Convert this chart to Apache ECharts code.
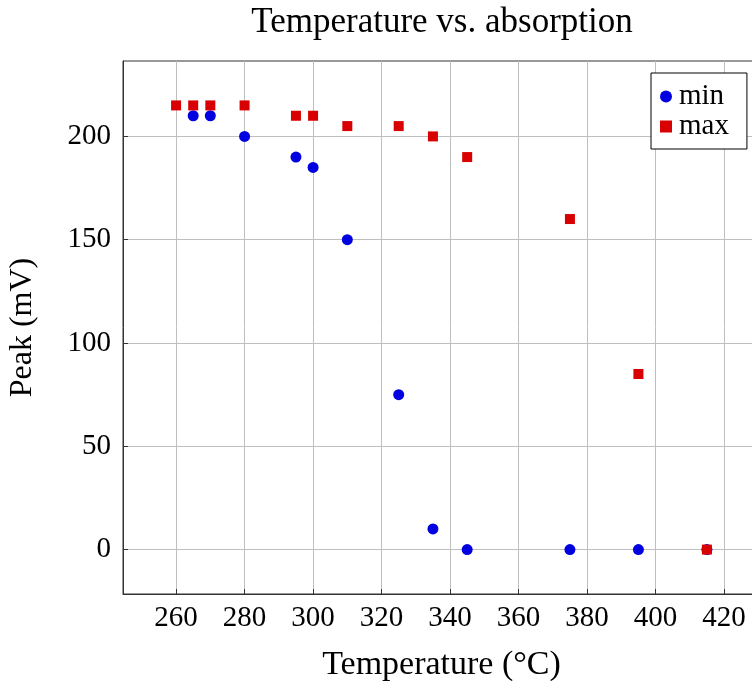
<!DOCTYPE html>
<html>
<head>
<meta charset="utf-8">
<script src="https://cdn.jsdelivr.net/npm/echarts@6/dist/echarts.min.js"></script>
<style>
  html, body { margin: 0; padding: 0; background: #fff; }
  #chart-container { width: 752px; height: 681px; }
</style>
</head>
<body>
<div id="chart-container"></div>
<script>
var dom = document.getElementById("chart-container");
var myChart = echarts.init(dom, null, { renderer: "canvas" });

var chart_title = "Temperature vs. absorption";
var minTemps = [265, 270, 280, 295, 300, 310, 325, 335, 345, 375, 395, 415];
var minPeaks = [210, 210, 200, 190, 185, 150, 75, 10, 0, 0, 0, 0];
var maxTemps = [260, 265, 270, 280, 295, 300, 310, 325, 335, 345, 375, 395, 415];
var maxPeaks = [215, 215, 215, 215, 210, 210, 205, 205, 200, 190, 160, 85, 0];
var xTicks = [260, 280, 300, 320, 340, 360, 380, 400, 420];
var yTicks = [0, 50, 100, 150, 200];

var font = "Liberation Serif";
var axisColor = "#333";
var gridColor = "#bfbfbf";

function pairs(xs, ys) {
  return xs.map(function (x, i) { return [x, ys[i]]; });
}

var option = {
  animation: false,
  backgroundColor: "#fff",
  title: {
    text: chart_title,
    left: 437,
    textAlign: "center",
    top: 0,
    textStyle: { fontFamily: font, fontSize: 35, fontWeight: "normal", color: "#000" },
  },
  legend: {
    orient: "vertical",
    left: 651,
    top: 73,
    padding: [9, 18, 8, 9],
    itemGap: 1,
    itemWidth: 12,
    itemHeight: 12,
    borderColor: "#000",
    borderWidth: 1,
    backgroundColor: "#fff",
    textStyle: { fontFamily: font, fontSize: 29, color: "#000", padding: [0, 0, 0, 2] },
    data: ["min", "max"],
  },
  grid: {
    left: 123,
    top: 61,
    width: 637,
    height: 533,
    outerBoundsMode: "none",
    containLabel: false,
    show: true,
    borderColor: axisColor,
    borderWidth: 1,
  },
  xAxis: {
    type: "value",
    min: 244.5,
    max: 430.5,
    name: "Temperature (°C)",
    nameLocation: "middle",
    nameGap: 54,
    nameTextStyle: { fontFamily: font, fontSize: 34, color: "#000" },
    axisLine: { onZero: false, lineStyle: { color: axisColor } },
    axisTick: { inside: true, length: 5, customValues: xTicks, lineStyle: { color: axisColor } },
    axisLabel: { fontFamily: font, fontSize: 29, color: "#000", margin: 10, customValues: xTicks },
    splitLine: { show: true, lineStyle: { color: gridColor } },
  },
  yAxis: {
    type: "value",
    min: -21.5,
    max: 236.5,
    name: "Peak (mV)",
    nameLocation: "middle",
    nameGap: 84,
    nameTextStyle: { fontFamily: font, fontSize: 32, color: "#000" },
    axisLine: { onZero: false, lineStyle: { color: axisColor } },
    axisTick: { inside: true, length: 5, customValues: yTicks, lineStyle: { color: axisColor } },
    axisLabel: { fontFamily: font, fontSize: 29, color: "#000", margin: 12, customValues: yTicks },
    splitLine: { show: true, lineStyle: { color: gridColor } },
  },
  series: [
    {
      name: "min",
      type: "scatter",
      symbol: "circle",
      symbolSize: 11,
      itemStyle: { color: "#0000e0", opacity: 1 },
      data: pairs(minTemps, minPeaks),
    },
    {
      name: "max",
      type: "scatter",
      symbol: "rect",
      symbolSize: 10,
      itemStyle: { color: "#d80000", opacity: 1 },
      data: pairs(maxTemps, maxPeaks),
    },
  ],
};

myChart.setOption(option);
</script>
</body>
</html>
